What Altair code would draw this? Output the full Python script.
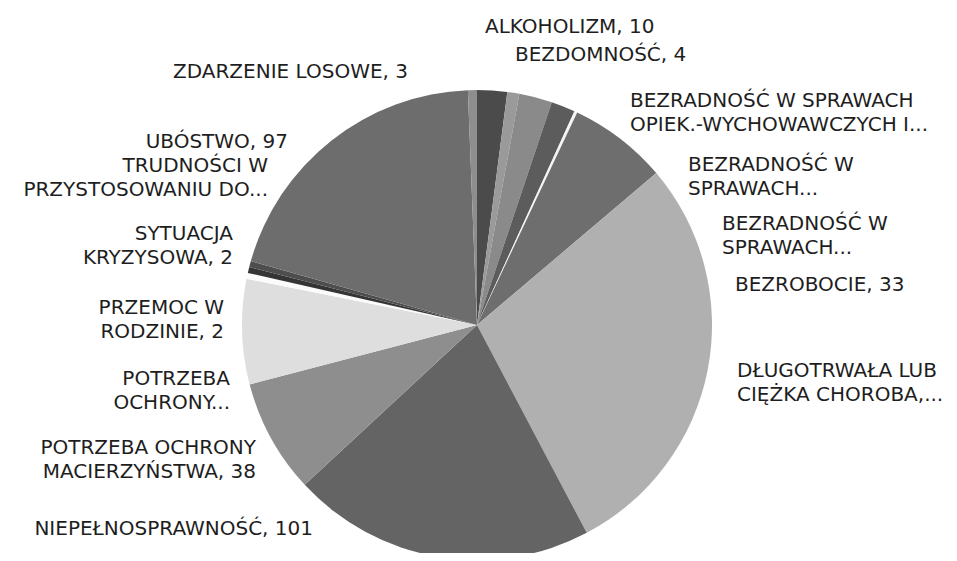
import altair as alt
import pandas as pd

# ---- data ----
categories = [
    "ALKOHOLIZM",
    "BEZDOMNOŚĆ",
    "BEZRADNOŚĆ W SPRAWACH OPIEK.-WYCHOWAWCZYCH",
    "BEZRADNOŚĆ W SPRAWACH (2)",
    "BEZRADNOŚĆ W SPRAWACH (3)",
    "BEZROBOCIE",
    "DŁUGOTRWAŁA LUB CIĘŻKA CHOROBA",
    "NIEPEŁNOSPRAWNOŚĆ",
    "POTRZEBA OCHRONY MACIERZYŃSTWA",
    "POTRZEBA OCHRONY (2)",
    "PRZEMOC W RODZINIE",
    "SYTUACJA KRYZYSOWA",
    "TRUDNOŚCI W PRZYSTOSOWANIU",
    "UBÓSTWO",
    "ZDARZENIE LOSOWE",
]
values = [10, 4, 11, 8, 1, 33, 138, 101, 38, 35, 2, 2, 2, 97, 3]
label_lines = [
    ["ALKOHOLIZM, 10"],
    ["BEZDOMNOŚĆ, 4"],
    ["BEZRADNOŚĆ W SPRAWACH", "OPIEK.-WYCHOWAWCZYCH I..."],
    ["BEZRADNOŚĆ W", "SPRAWACH..."],
    ["BEZRADNOŚĆ W", "SPRAWACH..."],
    ["BEZROBOCIE, 33"],
    ["DŁUGOTRWAŁA LUB", "CIĘŻKA CHOROBA,..."],
    ["NIEPEŁNOSPRAWNOŚĆ, 101"],
    ["POTRZEBA OCHRONY", "MACIERZYŃSTWA, 38"],
    ["POTRZEBA", "OCHRONY..."],
    ["PRZEMOC W", "RODZINIE, 2"],
    ["SYTUACJA", "KRYZYSOWA, 2"],
    ["TRUDNOŚCI W", "PRZYSTOSOWANIU DO..."],
    ["UBÓSTWO, 97"],
    ["ZDARZENIE LOSOWE, 3"],
]

# ---- styles / layout ----
colors = ["#4b4b4b", "#9a9a9a", "#8a8a8a", "#5c5c5c", "#f4f4f4", "#6e6e6e",
          "#b0b0b0", "#646464", "#8e8e8e", "#dedede", "#fbfbfb", "#353535",
          "#4e4e4e", "#6d6d6d", "#8e8e8e"]
M = 8  # page margin
cx, cy, R = 477 - M, 325 - M, 235
# label anchor (page px): side, x edge, first-line centre y
label_layout = [
    ("L", 485, 25), ("L", 515, 53), ("L", 630, 99), ("L", 688, 163),
    ("L", 722, 222), ("L", 735, 283), ("L", 737, 369), ("R", 313, 527),
    ("R", 256, 446), ("R", 230, 377), ("R", 224, 306), ("R", 233, 232),
    ("R", 268, 164), ("R", 288, 140), ("R", 408, 70),
]
LINE = 24
FONT = "DejaVu Sans"
FSIZE = 20
CAP_MID = 8.5  # distance from text top anchor to cap centre

pie_df = pd.DataFrame({"cat": categories, "val": values, "idx": list(range(len(values)))})

rows = []
for lines, (side, lx, ly) in zip(label_lines, label_layout):
    rows.append({"t": "\n".join(lines), "side": side, "x": lx - M, "y": ly - M - CAP_MID})
lab_df = pd.DataFrame(rows)

pie = alt.Chart(pie_df).mark_arc(outerRadius=R, stroke=None).encode(
    theta=alt.Theta("val:Q", stack=True),
    order=alt.Order("idx:Q"),
    color=alt.Color("cat:N", scale=alt.Scale(domain=categories, range=colors), legend=None),
    x=alt.value(cx),
    y=alt.value(cy),
)

def text_layer(side, align):
    return alt.Chart(lab_df).transform_filter(alt.datum.side == side).mark_text(
        align=align, baseline="top", font=FONT, fontSize=FSIZE, color="#1e1e1e",
        lineBreak="\n", lineHeight=LINE,
    ).encode(
        x=alt.X("x:Q", scale=None),
        y=alt.Y("y:Q", scale=None),
        text="t:N",
    )

chart = alt.layer(pie, text_layer("L", "left"), text_layer("R", "right")).properties(
    width=941, height=545, autosize="none", padding=0, background="white"
).configure_view(stroke=None)

chart.save("out.html", embed_options={"renderer": "svg", "actions": False})
